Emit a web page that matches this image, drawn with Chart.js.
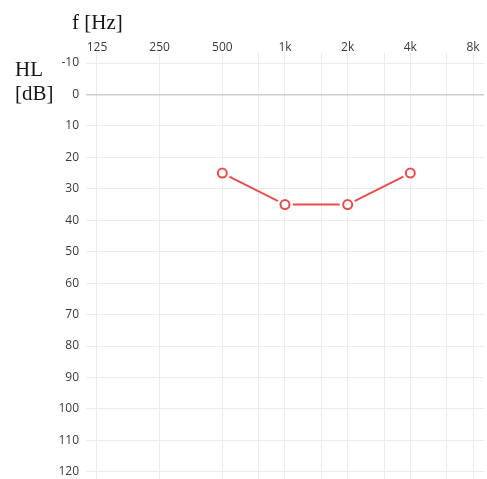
<!DOCTYPE html>
<html>
<head>
<meta charset="utf-8">
<script src="https://cdn.jsdelivr.net/npm/chart.js@4/dist/chart.umd.min.js"></script>
<style>
html,body{margin:0;padding:0;background:#fff;}
#wrap{position:relative;width:487px;height:479px;}
canvas{display:block;}
</style>
</head>
<body>
<div id="wrap"><canvas id="c" width="487" height="479"></canvas></div>
<script>
// Data
const freqs = [500, 1000, 2000, 4000];
const hearingLevel = [25, 35, 35, 25];
const xGridFreqs = [125, 250, 500, 750, 1000, 1500, 2000, 3000, 4000, 6000, 8000];
const xLabelFreqs = [125, 250, 500, 1000, 2000, 4000, 8000];
const xLabelText = ['125', '250', '500', '1k', '2k', '4k', '8k'];
const yTicks = [-10, 0, 10, 20, 30, 40, 50, 60, 70, 80, 90, 100, 110, 120];
const xTitle = 'f [Hz]';
const yTitle = ['HL', '[dB]'];

const points = freqs.map((f, i) => ({x: f, y: hearingLevel[i]}));
const red = '#ee4a4c';

const titlePlugin = {
  id: 'titles',
  afterDraw(chart) {
    const ctx = chart.ctx;
    ctx.save();
    ctx.fillStyle = '#151515';
    ctx.font = '21px "Liberation Serif", "Times New Roman", serif';
    ctx.textAlign = 'left';
    ctx.textBaseline = 'alphabetic';
    ctx.fillText(xTitle, 72, 29);
    ctx.fillText(yTitle[0], 15, 76);
    ctx.fillText(yTitle[1], 15, 100);
    ctx.restore();
  }
};

function noPad(axis) {
  axis.paddingTop = 0; axis.paddingBottom = 0;
  axis.paddingLeft = 0; axis.paddingRight = 0;
}

new Chart(document.getElementById('c'), {
  type: 'line',
  data: {
    datasets: [
      {
        data: points,
        borderColor: red,
        borderWidth: 2,
        pointRadius: 0,
        fill: false,
        order: 3
      },
      {
        data: points,
        showLine: false,
        pointRadius: 8,
        pointBorderWidth: 0,
        pointBackgroundColor: '#ffffff',
        pointBorderColor: '#ffffff',
        order: 2
      },
      {
        data: points,
        showLine: false,
        pointRadius: 4.5,
        pointBorderWidth: 2,
        pointBackgroundColor: '#ffffff',
        pointBorderColor: red,
        order: 1
      }
    ]
  },
  options: {
    responsive: false,
    animation: false,
    layout: {autoPadding: false, padding: {left: 0, right: 3, top: 0, bottom: 0}},
    plugins: {legend: {display: false}, tooltip: {enabled: false}},
    scales: {
      x: {
        type: 'logarithmic',
        position: 'top',
        min: 110.7,
        max: 9034,
        afterBuildTicks(axis) { axis.ticks = xGridFreqs.map(v => ({value: v})); },
        afterFit(axis) { axis.height = 53; noPad(axis); },
        ticks: {
          autoSkip: false,
          maxRotation: 0,
          padding: -2,
          color: '#3a3a3a',
          font: {family: '"Open Sans", sans-serif', size: 12},
          callback(value) {
            const i = xLabelFreqs.indexOf(value);
            return i >= 0 ? xLabelText[i] : '';
          }
        },
        grid: {color: '#ececec', lineWidth: 1, drawTicks: false},
        border: {display: false}
      },
      y: {
        type: 'linear',
        reverse: true,
        min: -13.2,
        max: 122.3,
        afterBuildTicks(axis) { axis.ticks = yTicks.map(v => ({value: v})); },
        afterFit(axis) { axis.width = 86; noPad(axis); },
        ticks: {
          autoSkip: false,
          padding: 7,
          color: '#3a3a3a',
          font: {family: '"Open Sans", sans-serif', size: 12}
        },
        grid: {
          color(ctx) { return ctx.tick && ctx.tick.value === 0 ? '#cdcdcd' : '#ececec'; },
          lineWidth(ctx) { return ctx.tick && ctx.tick.value === 0 ? 1.5 : 1; },
          drawTicks: false
        },
        border: {display: false}
      }
    }
  },
  plugins: [titlePlugin]
});
</script>
</body>
</html>
